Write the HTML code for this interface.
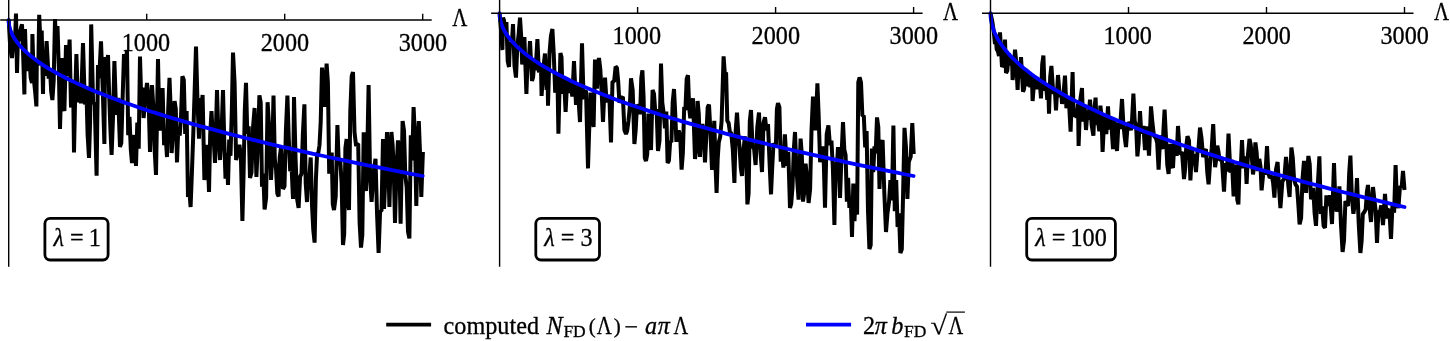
<!DOCTYPE html>
<html><head><meta charset="utf-8"><title>plot</title>
<style>
html,body{margin:0;padding:0;background:#fff;}
body{width:1450px;height:341px;overflow:hidden;position:relative;}
svg{position:absolute;left:0;top:0;display:block}
text{font-family:"Liberation Serif","DejaVu Serif",serif;fill:#000;stroke:#000;stroke-width:0.3px;}
.tk{font-size:24.2px;}
.lb{font-size:24.2px;}
.lg{font-size:24.2px;}
</style></head><body>
<svg width="1450" height="341" viewBox="0 0 1450 341">
<g>
<path d="M8.7 20.0 L10.3 48.8 L12.0 58.0 L13.7 37.1 L14.9 42.3 L16.0 13.6 L17.0 73.0 L18.2 29.5 L19.5 41.2 L20.8 28.3 L22.0 24.4 L23.2 56.3 L24.4 94.4 L25.0 29.0 L26.1 64.5 L27.3 71.0 L29.3 55.5 L30.7 77.9 L32.0 83.0 L32.4 34.0 L33.7 78.0 L35.1 91.2 L36.4 106.4 L36.8 60.1 L38.3 65.5 L39.2 14.8 L40.5 43.2 L41.7 30.5 L43.0 94.0 L43.4 66.1 L44.8 75.7 L46.6 41.0 L48.7 78.7 L50.0 68.5 L51.2 91.7 L52.4 100.0 L53.7 80.3 L55.0 19.0 L56.2 43.2 L57.5 26.0 L58.8 67.8 L60.0 129.0 L62.0 58.0 L63.2 105.7 L64.4 111.0 L66.0 45.0 L67.7 76.2 L69.6 39.6 L71.0 107.5 L72.0 93.3 L73.1 82.1 L74.0 152.4 L75.2 94.8 L76.4 54.0 L77.9 102.2 L79.7 84.7 L81.0 103.3 L83.0 43.0 L84.9 104.5 L86.3 86.7 L87.6 134.6 L89.0 158.0 L90.1 121.8 L91.2 24.4 L93.1 102.6 L94.7 103.7 L96.6 175.6 L98.0 65.0 L99.2 78.1 L101.0 41.4 L102.7 88.3 L104.4 144.0 L105.0 57.0 L106.3 73.1 L108.0 55.0 L109.2 95.6 L110.4 128.8 L111.6 155.0 L113.0 117.6 L114.4 61.0 L116.2 114.8 L118.2 97.7 L120.0 147.0 L121.3 142.9 L122.7 95.7 L124.0 54.0 L125.3 70.6 L127.0 50.0 L128.2 135.1 L129.5 116.8 L130.8 149.6 L132.0 163.0 L133.1 141.4 L134.2 135.1 L136.0 166.0 L137.3 122.5 L138.7 148.6 L140.0 56.6 L141.2 98.1 L142.4 87.7 L143.6 118.0 L145.3 99.0 L147.0 83.0 L148.5 96.3 L150.0 152.0 L152.0 85.0 L153.3 106.3 L154.7 150.6 L156.0 175.0 L158.0 59.0 L159.3 120.6 L160.6 130.4 L162.6 88.0 L164.1 145.1 L165.5 133.4 L167.0 157.0 L168.2 109.5 L169.5 77.8 L170.6 106.5 L171.6 153.0 L173.1 131.2 L174.6 101.0 L175.8 109.1 L177.0 162.4 L178.3 127.6 L179.7 135.7 L181.1 114.6 L182.4 76.2 L183.8 79.9 L185.2 133.9 L186.6 111.0 L188.0 197.0 L189.1 186.5 L190.6 207.0 L191.9 172.6 L193.3 133.3 L194.7 89.1 L196.0 46.6 L197.5 102.1 L199.0 138.7 L200.2 98.1 L201.4 107.0 L202.6 95.0 L204.4 180.0 L205.7 165.9 L206.9 144.8 L208.0 164.8 L209.0 192.0 L210.2 134.6 L211.5 111.0 L212.7 134.2 L213.8 141.2 L215.0 163.0 L217.0 90.0 L218.5 139.0 L220.0 160.0 L221.5 133.2 L223.0 90.0 L224.2 138.6 L225.5 178.7 L226.8 152.7 L228.0 185.0 L229.2 139.6 L230.5 155.9 L231.8 111.0 L233.0 52.5 L234.6 82.9 L236.1 159.9 L237.8 153.4 L239.4 144.8 L240.9 156.1 L242.4 221.0 L243.6 171.9 L244.8 110.2 L246.0 82.8 L247.3 133.8 L248.7 126.3 L250.0 178.0 L251.5 172.5 L253.1 126.4 L254.6 108.0 L256.4 177.0 L257.9 142.8 L259.4 95.3 L260.7 102.5 L262.0 186.8 L263.3 173.6 L264.6 209.4 L266.1 197.9 L267.6 102.2 L269.3 129.7 L271.0 180.0 L272.2 155.8 L273.5 95.6 L274.8 158.8 L276.1 170.1 L277.3 193.4 L278.6 196.4 L279.7 157.7 L280.9 148.2 L281.9 164.8 L283.0 189.0 L284.5 186.2 L285.9 130.4 L287.4 95.6 L288.8 139.5 L290.2 171.2 L291.6 167.6 L293.0 199.0 L294.0 97.0 L295.5 156.5 L297.1 199.0 L298.6 208.0 L300.1 176.6 L301.5 173.8 L302.9 133.0 L304.4 104.4 L305.7 183.0 L307.0 202.0 L308.2 173.3 L309.4 176.7 L310.7 157.5 L312.0 205.0 L313.3 230.1 L314.6 242.6 L315.9 179.2 L317.1 153.9 L318.3 152.7 L319.5 145.2 L320.7 122.2 L322.0 67.6 L323.3 81.2 L324.7 106.8 L326.6 63.6 L327.9 82.5 L329.2 173.6 L330.4 164.0 L331.7 152.5 L332.8 204.0 L334.0 210.0 L335.7 196.5 L337.4 125.0 L338.8 164.2 L340.2 159.6 L341.6 182.9 L343.0 245.0 L344.2 234.0 L345.4 148.1 L346.6 139.0 L347.8 202.0 L349.0 210.0 L350.3 111.4 L351.7 76.1 L353.0 72.0 L354.5 132.0 L356.1 146.0 L357.1 144.2 L358.2 143.8 L359.6 222.3 L361.0 247.6 L362.3 235.1 L363.7 132.3 L364.9 183.2 L366.0 190.9 L367.3 151.2 L368.6 85.0 L370.1 178.2 L371.6 201.8 L372.9 181.4 L374.2 168.1 L375.5 158.7 L377.0 212.7 L378.6 253.0 L380.1 211.1 L381.5 211.0 L383.0 139.0 L384.0 209.0 L385.5 174.7 L387.0 132.0 L388.2 154.6 L389.4 207.0 L391.4 132.0 L392.6 144.7 L393.8 171.0 L395.0 223.0 L396.5 168.3 L398.0 140.4 L399.3 156.3 L400.6 223.6 L402.6 121.0 L404.0 130.5 L405.3 175.4 L406.7 187.3 L408.0 231.5 L409.4 238.4 L410.8 135.4 L412.2 160.5 L413.6 107.0 L415.0 139.0 L416.3 206.0 L417.6 144.3 L418.8 121.0 L420.1 155.2 L421.3 197.0 L422.9 152.0" fill="none" stroke="#000" stroke-width="4.0" stroke-linejoin="bevel"/>
<path d="M8.7 20.0 L8.7 21.0 L8.8 21.9 L8.8 22.9 L9.0 23.9 L9.1 24.9 L9.3 25.9 L9.5 26.8 L9.7 27.8 L10.0 28.8 L10.3 29.8 L10.7 30.7 L11.0 31.7 L11.4 32.7 L11.9 33.6 L12.3 34.6 L12.8 35.6 L13.4 36.6 L13.9 37.5 L14.5 38.5 L15.2 39.5 L15.8 40.5 L16.5 41.5 L17.3 42.4 L18.0 43.4 L18.8 44.4 L19.6 45.4 L20.5 46.3 L21.4 47.3 L22.3 48.3 L23.3 49.2 L24.2 50.2 L25.3 51.2 L26.3 52.2 L27.4 53.1 L28.5 54.1 L29.7 55.1 L30.8 56.1 L32.1 57.0 L33.3 58.0 L34.6 59.0 L35.9 60.0 L37.2 61.0 L38.6 61.9 L40.0 62.9 L41.4 63.9 L42.9 64.8 L44.4 65.8 L46.0 66.8 L47.5 67.8 L49.1 68.8 L50.8 69.7 L52.4 70.7 L54.1 71.7 L55.9 72.7 L57.6 73.6 L59.4 74.6 L61.2 75.6 L63.1 76.5 L65.0 77.5 L66.9 78.5 L68.9 79.5 L70.9 80.5 L72.9 81.4 L74.9 82.4 L77.0 83.4 L79.1 84.3 L81.3 85.3 L83.5 86.3 L85.7 87.3 L87.9 88.2 L90.2 89.2 L92.5 90.2 L94.9 91.2 L97.3 92.2 L99.7 93.1 L102.1 94.1 L104.6 95.1 L107.1 96.0 L109.6 97.0 L112.2 98.0 L114.8 99.0 L117.4 99.9 L120.1 100.9 L122.8 101.9 L125.5 102.9 L128.3 103.8 L131.1 104.8 L133.9 105.8 L136.8 106.8 L139.7 107.8 L142.6 108.7 L145.6 109.7 L148.6 110.7 L151.6 111.7 L154.7 112.6 L157.7 113.6 L160.9 114.6 L164.0 115.6 L167.2 116.5 L170.4 117.5 L173.7 118.5 L177.0 119.4 L180.3 120.4 L183.6 121.4 L187.0 122.4 L190.4 123.3 L193.9 124.3 L197.3 125.3 L200.8 126.3 L204.4 127.2 L208.0 128.2 L211.6 129.2 L215.2 130.2 L218.9 131.2 L222.6 132.1 L226.3 133.1 L230.1 134.1 L233.9 135.1 L237.7 136.0 L241.6 137.0 L245.5 138.0 L249.4 138.9 L253.4 139.9 L257.4 140.9 L261.4 141.9 L265.4 142.8 L269.5 143.8 L273.7 144.8 L277.8 145.8 L282.0 146.8 L286.2 147.7 L290.5 148.7 L294.8 149.7 L299.1 150.7 L303.4 151.6 L307.8 152.6 L312.2 153.6 L316.7 154.6 L321.2 155.5 L325.7 156.5 L330.2 157.5 L334.8 158.4 L339.4 159.4 L344.0 160.4 L348.7 161.4 L353.4 162.3 L358.2 163.3 L362.9 164.3 L367.7 165.3 L372.6 166.2 L377.4 167.2 L382.3 168.2 L387.3 169.2 L392.2 170.2 L397.2 171.1 L402.3 172.1 L407.3 173.1 L412.4 174.1 L417.5 175.0 L422.7 176.0" fill="none" stroke="#0000ff" stroke-width="3.8" stroke-linecap="round" stroke-linejoin="round"/>
<path d="M8.7 0 V266.8" stroke="#000" stroke-width="1.4" fill="none"/>
<path d="M0.2 20.0 H431.7" stroke="#000" stroke-width="1.4" fill="none"/>
<path d="M146.7 20.0 V13.8" stroke="#000" stroke-width="1.4" fill="none"/>
<text x="121.7" y="50.5" class="tk">1000</text>
<path d="M284.7 20.0 V13.8" stroke="#000" stroke-width="1.4" fill="none"/>
<text x="260.7" y="50.5" class="tk">2000</text>
<path d="M422.7 20.0 V13.8" stroke="#000" stroke-width="1.4" fill="none"/>
<text x="398.7" y="50.5" class="tk">3000</text>
<text transform="translate(452.2 26.3) scale(0.86 1)" class="tk">Λ</text>
<rect x="44.9" y="218.4" width="63.2" height="41.6" rx="5.2" ry="5.2" fill="#fff" stroke="#000" stroke-width="2.8"/>
<text y="245.7" class="lb"><tspan x="53.4" font-style="italic">λ</tspan><tspan x="69.9">=</tspan><tspan x="88.7">1</tspan></text>
</g>
<g>
<path d="M499.6 13.2 L501.0 30.1 L502.4 50.0 L503.0 17.6 L504.0 20.3 L505.1 35.6 L506.4 22.0 L507.7 61.0 L509.0 67.0 L509.9 42.9 L511.9 43.2 L513.0 24.0 L514.5 66.1 L516.0 77.6 L517.3 46.2 L518.7 33.6 L520.0 17.6 L521.1 34.8 L522.2 64.4 L523.3 59.0 L524.4 37.0 L526.4 94.0 L527.7 56.7 L528.6 63.6 L530.0 41.0 L532.0 81.0 L533.1 77.1 L534.3 61.4 L535.6 70.1 L537.4 39.0 L538.9 72.5 L540.9 64.5 L541.6 96.0 L543.3 68.3 L545.0 53.6 L546.6 90.0 L547.5 69.1 L548.0 105.6 L549.5 53.4 L550.9 36.1 L552.4 29.0 L553.8 54.9 L555.2 92.8 L556.3 76.5 L557.4 74.4 L558.4 133.6 L560.4 53.0 L561.5 57.1 L562.5 93.8 L564.0 77.8 L565.6 112.0 L567.3 78.4 L568.7 92.9 L570.6 82.3 L572.3 96.5 L574.0 61.0 L576.0 105.0 L577.2 83.3 L578.6 100.7 L580.0 122.0 L582.0 43.4 L583.6 99.3 L584.8 92.2 L586.0 90.6 L588.0 168.4 L589.3 125.9 L590.5 92.6 L592.1 116.7 L593.6 127.0 L595.0 59.6 L596.9 88.6 L597.9 69.7 L599.0 58.0 L600.3 69.3 L601.7 93.2 L603.0 122.0 L605.0 77.6 L606.6 102.2 L607.9 99.6 L609.3 94.9 L611.0 142.4 L612.5 81.6 L614.1 81.6 L615.6 66.6 L616.9 67.7 L618.1 80.2 L619.4 102.7 L621.1 98.4 L622.9 96.8 L624.4 129.9 L626.0 134.0 L627.2 130.5 L628.5 120.5 L629.8 107.0 L631.0 78.4 L632.7 90.3 L634.4 144.0 L635.7 130.0 L637.0 104.9 L638.5 106.5 L640.1 114.1 L641.3 78.0 L642.4 70.4 L643.6 97.8 L644.8 157.7 L646.0 161.0 L647.2 154.4 L648.4 113.5 L649.7 134.6 L651.0 150.0 L652.6 90.0 L654.0 94.0 L655.3 112.3 L656.6 109.1 L658.0 151.0 L659.5 140.6 L661.0 63.5 L662.3 102.7 L663.6 112.4 L665.0 128.2 L666.3 111.6 L667.6 163.0 L668.9 160.8 L670.2 141.1 L671.4 142.1 L672.7 102.1 L674.0 89.0 L675.2 112.5 L676.4 141.8 L677.6 133.2 L678.7 130.5 L680.2 135.7 L681.6 169.6 L682.9 152.3 L684.2 107.0 L685.4 110.1 L686.7 78.6 L688.0 75.2 L689.2 108.1 L690.3 118.2 L691.7 106.1 L693.0 98.4 L695.0 159.0 L696.3 149.1 L697.6 101.0 L698.8 113.9 L700.0 157.0 L701.1 130.5 L702.3 124.1 L703.6 132.0 L705.0 162.4 L706.3 136.5 L707.7 107.2 L709.0 104.5 L710.5 132.6 L712.0 170.0 L713.2 142.1 L714.3 120.8 L715.5 164.9 L716.6 193.0 L717.7 158.5 L718.8 142.3 L720.2 136.7 L721.6 121.1 L723.6 56.4 L724.8 73.5 L726.1 72.6 L727.3 120.9 L728.6 122.8 L729.9 132.3 L731.2 133.0 L732.8 149.3 L734.4 183.0 L735.7 130.3 L737.0 112.6 L738.2 132.6 L739.5 146.4 L740.8 167.9 L742.0 176.0 L743.4 151.4 L744.9 136.3 L746.1 150.0 L747.4 204.4 L748.6 193.5 L749.8 121.2 L751.0 110.0 L752.5 146.2 L754.1 148.8 L755.6 165.0 L757.3 127.3 L759.0 112.5 L760.5 152.1 L762.0 172.0 L763.5 122.8 L765.0 117.2 L766.5 130.2 L768.0 124.2 L769.5 161.2 L771.0 194.4 L772.3 165.5 L773.5 143.3 L774.7 144.7 L775.9 145.2 L776.9 109.0 L778.0 103.2 L779.4 107.1 L780.7 161.6 L782.0 150.5 L783.4 167.6 L784.9 134.3 L786.0 153.3 L787.0 165.8 L788.3 151.8 L790.0 208.0 L791.2 203.6 L792.5 187.7 L793.8 149.7 L795.0 132.0 L796.2 163.1 L797.4 182.8 L798.6 199.6 L800.6 138.6 L801.8 154.2 L803.0 201.6 L804.3 192.1 L805.6 163.6 L807.1 178.1 L808.6 203.0 L810.1 189.2 L811.5 130.6 L813.0 96.6 L814.3 102.4 L815.6 130.3 L817.4 83.4 L818.7 116.9 L820.1 162.2 L821.3 152.7 L822.5 146.4 L823.8 162.7 L825.0 207.6 L826.7 134.1 L828.4 125.4 L829.9 145.0 L831.4 140.7 L832.9 168.3 L834.4 225.0 L835.6 162.2 L836.8 168.9 L838.0 147.0 L840.0 198.0 L841.5 156.3 L843.0 122.0 L844.3 149.5 L845.6 155.3 L846.9 201.6 L848.1 177.9 L849.4 207.9 L850.7 197.8 L852.0 237.0 L853.3 183.5 L854.5 221.2 L855.8 187.0 L857.1 214.7 L858.3 82.2 L859.6 77.4 L861.0 82.5 L862.4 116.0 L863.8 115.5 L865.2 147.3 L866.6 131.0 L868.0 211.0 L869.4 249.0 L870.7 245.1 L871.9 148.5 L873.2 172.1 L874.5 146.4 L875.7 153.3 L877.0 117.4 L878.3 126.9 L879.5 188.9 L881.1 145.6 L882.6 140.0 L884.3 192.3 L886.0 232.0 L887.5 212.9 L889.0 202.3 L890.4 180.1 L891.9 200.4 L893.4 125.6 L894.8 211.1 L896.2 180.0 L897.6 227.0 L899.0 213.4 L900.4 253.0 L901.8 249.2 L903.1 194.0 L904.5 127.9 L906.0 147.9 L907.4 199.0 L908.8 161.7 L910.7 156.8 L912.3 123.0 L913.7 154.0" fill="none" stroke="#000" stroke-width="4.0" stroke-linejoin="bevel"/>
<path d="M499.6 13.2 L499.6 14.2 L499.7 15.2 L499.7 16.3 L499.9 17.3 L500.0 18.3 L500.2 19.3 L500.4 20.3 L500.6 21.3 L500.9 22.4 L501.2 23.4 L501.6 24.4 L501.9 25.4 L502.3 26.4 L502.8 27.4 L503.2 28.5 L503.7 29.5 L504.3 30.5 L504.8 31.5 L505.4 32.5 L506.1 33.5 L506.7 34.6 L507.4 35.6 L508.2 36.6 L508.9 37.6 L509.7 38.6 L510.5 39.7 L511.4 40.7 L512.3 41.7 L513.2 42.7 L514.2 43.7 L515.1 44.7 L516.2 45.8 L517.2 46.8 L518.3 47.8 L519.4 48.8 L520.6 49.8 L521.7 50.8 L523.0 51.9 L524.2 52.9 L525.5 53.9 L526.8 54.9 L528.1 55.9 L529.5 57.0 L530.9 58.0 L532.3 59.0 L533.8 60.0 L535.3 61.0 L536.9 62.0 L538.4 63.1 L540.0 64.1 L541.7 65.1 L543.3 66.1 L545.0 67.1 L546.8 68.1 L548.5 69.2 L550.3 70.2 L552.1 71.2 L554.0 72.2 L555.9 73.2 L557.8 74.2 L559.8 75.3 L561.8 76.3 L563.8 77.3 L565.8 78.3 L567.9 79.3 L570.0 80.4 L572.2 81.4 L574.4 82.4 L576.6 83.4 L578.8 84.4 L581.1 85.4 L583.4 86.5 L585.8 87.5 L588.2 88.5 L590.6 89.5 L593.0 90.5 L595.5 91.5 L598.0 92.6 L600.5 93.6 L603.1 94.6 L605.7 95.6 L608.3 96.6 L611.0 97.7 L613.7 98.7 L616.4 99.7 L619.2 100.7 L622.0 101.7 L624.8 102.7 L627.7 103.8 L630.6 104.8 L633.5 105.8 L636.5 106.8 L639.5 107.8 L642.5 108.8 L645.6 109.9 L648.6 110.9 L651.8 111.9 L654.9 112.9 L658.1 113.9 L661.3 115.0 L664.6 116.0 L667.9 117.0 L671.2 118.0 L674.5 119.0 L677.9 120.0 L681.3 121.1 L684.8 122.1 L688.2 123.1 L691.7 124.1 L695.3 125.1 L698.9 126.1 L702.5 127.2 L706.1 128.2 L709.8 129.2 L713.5 130.2 L717.2 131.2 L721.0 132.2 L724.8 133.3 L728.6 134.3 L732.5 135.3 L736.4 136.3 L740.3 137.3 L744.3 138.4 L748.3 139.4 L752.3 140.4 L756.3 141.4 L760.4 142.4 L764.6 143.4 L768.7 144.5 L772.9 145.5 L777.1 146.5 L781.4 147.5 L785.7 148.5 L790.0 149.5 L794.3 150.6 L798.7 151.6 L803.1 152.6 L807.6 153.6 L812.1 154.6 L816.6 155.7 L821.1 156.7 L825.7 157.7 L830.3 158.7 L834.9 159.7 L839.6 160.7 L844.3 161.8 L849.1 162.8 L853.8 163.8 L858.6 164.8 L863.5 165.8 L868.3 166.8 L873.2 167.9 L878.2 168.9 L883.1 169.9 L888.1 170.9 L893.2 171.9 L898.2 172.9 L903.3 174.0 L908.4 175.0 L913.6 176.0" fill="none" stroke="#0000ff" stroke-width="3.8" stroke-linecap="round" stroke-linejoin="round"/>
<path d="M499.6 0 V266.8" stroke="#000" stroke-width="1.4" fill="none"/>
<path d="M491.1 13.2 H922.6" stroke="#000" stroke-width="1.4" fill="none"/>
<path d="M637.6 13.2 V7.0" stroke="#000" stroke-width="1.4" fill="none"/>
<text x="612.6" y="43.7" class="tk">1000</text>
<path d="M775.6 13.2 V7.0" stroke="#000" stroke-width="1.4" fill="none"/>
<text x="751.6" y="43.7" class="tk">2000</text>
<path d="M913.6 13.2 V7.0" stroke="#000" stroke-width="1.4" fill="none"/>
<text x="889.6" y="43.7" class="tk">3000</text>
<text transform="translate(943.1 19.5) scale(0.86 1)" class="tk">Λ</text>
<rect x="535.8" y="218.4" width="63.7" height="41.6" rx="5.2" ry="5.2" fill="#fff" stroke="#000" stroke-width="2.8"/>
<text y="245.7" class="lb"><tspan x="544.3" font-style="italic">λ</tspan><tspan x="560.8">=</tspan><tspan x="580.6">3</tspan></text>
</g>
<g>
<path d="M990.5 13.2 L992.3 21.5 L993.6 30.3 L995.0 44.0 L995.5 34.1 L996.7 49.3 L997.8 50.9 L999.0 56.0 L1000.0 32.4 L1002.0 67.0 L1003.5 64.1 L1005.0 39.6 L1006.0 73.0 L1007.3 70.7 L1008.7 53.6 L1010.0 65.3 L1012.0 57.9 L1012.6 80.0 L1013.8 68.5 L1015.0 49.6 L1016.3 62.6 L1017.6 90.0 L1018.6 63.6 L1019.9 78.5 L1021.0 57.0 L1023.0 91.6 L1024.1 89.0 L1025.2 68.4 L1026.8 86.3 L1028.0 72.0 L1029.1 76.1 L1030.3 87.4 L1031.8 74.0 L1032.6 101.0 L1033.8 86.2 L1035.0 78.0 L1036.6 89.2 L1038.4 78.6 L1039.7 81.8 L1041.0 98.4 L1042.2 64.3 L1043.4 55.6 L1044.6 90.8 L1046.0 83.8 L1047.3 99.8 L1048.3 87.4 L1049.0 113.6 L1050.2 76.7 L1051.4 66.0 L1053.3 93.9 L1054.9 90.7 L1056.0 110.4 L1058.0 75.0 L1059.8 96.6 L1061.5 95.1 L1062.0 104.0 L1063.5 94.1 L1065.0 75.6 L1066.4 108.2 L1068.1 96.6 L1069.3 107.6 L1070.6 131.6 L1072.6 72.0 L1073.6 117.0 L1075.4 109.5 L1076.7 118.0 L1078.0 103.7 L1078.6 146.0 L1080.3 99.7 L1082.0 88.0 L1083.0 121.5 L1084.6 104.9 L1086.0 130.0 L1087.5 111.0 L1088.3 119.9 L1090.0 99.6 L1091.7 125.5 L1093.4 135.6 L1094.5 108.1 L1095.6 97.6 L1096.5 124.7 L1097.8 120.0 L1099.3 131.2 L1100.4 105.6 L1101.5 116.2 L1102.6 152.0 L1104.4 115.4 L1106.3 134.1 L1108.0 106.4 L1109.2 129.4 L1111.0 118.7 L1113.0 149.0 L1114.3 119.3 L1115.6 132.6 L1117.0 151.0 L1118.5 122.5 L1120.0 128.8 L1122.0 99.0 L1123.3 123.1 L1124.7 137.2 L1126.0 147.0 L1127.4 128.1 L1128.8 122.3 L1129.8 123.5 L1130.9 130.4 L1132.1 119.0 L1133.4 93.6 L1134.7 121.1 L1136.1 125.5 L1137.4 156.4 L1138.7 142.4 L1140.0 111.0 L1141.3 133.5 L1142.3 131.4 L1143.4 125.8 L1145.0 150.0 L1146.1 131.1 L1147.1 126.5 L1149.0 155.6 L1151.0 106.4 L1152.4 122.6 L1153.9 135.8 L1155.9 138.1 L1157.2 143.1 L1158.6 169.6 L1160.2 135.3 L1161.4 146.3 L1162.5 149.0 L1163.6 127.2 L1164.6 109.6 L1165.9 136.4 L1167.3 164.9 L1168.6 174.0 L1170.4 143.8 L1171.7 164.6 L1173.0 168.0 L1174.3 142.4 L1175.5 144.7 L1176.7 155.8 L1178.0 126.0 L1179.8 153.6 L1180.9 153.4 L1182.0 151.8 L1184.0 179.0 L1185.2 168.3 L1186.3 145.5 L1187.5 136.2 L1189.0 140.7 L1190.4 180.4 L1192.1 148.5 L1193.0 159.9 L1194.2 154.1 L1196.0 172.0 L1197.6 150.5 L1198.3 151.0 L1200.0 127.6 L1201.5 138.0 L1203.1 157.2 L1204.5 151.8 L1205.9 149.0 L1207.3 172.7 L1208.6 184.4 L1210.1 162.6 L1211.7 148.2 L1213.2 124.0 L1215.1 167.1 L1216.2 159.5 L1217.3 145.7 L1218.4 151.3 L1219.5 159.5 L1220.8 159.7 L1222.0 160.8 L1224.0 191.6 L1225.5 163.1 L1227.0 171.3 L1228.5 133.6 L1230.4 172.7 L1231.9 159.9 L1233.6 196.4 L1234.9 172.3 L1236.2 164.7 L1237.3 199.9 L1238.4 204.4 L1239.6 161.8 L1240.8 167.0 L1242.0 140.2 L1243.3 168.1 L1244.4 164.6 L1245.4 156.4 L1246.6 184.0 L1248.0 153.9 L1249.5 139.0 L1250.7 144.4 L1251.8 156.4 L1253.0 174.4 L1254.2 165.3 L1255.4 142.4 L1256.6 151.9 L1257.8 171.1 L1259.3 158.9 L1260.5 166.4 L1261.6 190.4 L1263.6 169.9 L1265.4 174.6 L1267.0 146.0 L1268.4 173.8 L1269.8 177.9 L1271.7 175.8 L1273.1 182.5 L1274.4 197.6 L1276.0 169.4 L1277.6 162.0 L1279.0 186.9 L1280.4 208.0 L1282.4 181.2 L1284.3 178.7 L1286.0 157.0 L1287.2 169.6 L1288.4 186.4 L1289.6 197.0 L1291.4 147.6 L1292.8 158.1 L1294.1 179.3 L1295.6 184.8 L1297.0 186.4 L1298.3 203.8 L1299.6 224.4 L1301.1 218.0 L1302.5 178.8 L1304.0 161.0 L1305.1 172.0 L1306.1 193.0 L1307.3 170.4 L1308.4 156.0 L1309.7 164.1 L1311.0 199.3 L1312.1 196.1 L1313.2 187.8 L1314.6 213.0 L1316.0 225.8 L1317.7 186.5 L1319.4 156.4 L1320.8 214.0 L1322.2 206.3 L1323.6 225.9 L1325.0 228.0 L1326.4 195.3 L1328.2 206.0 L1329.9 195.2 L1332.0 224.0 L1334.0 163.0 L1335.4 202.9 L1336.7 211.4 L1338.0 206.7 L1339.4 186.3 L1341.0 225.2 L1342.6 252.0 L1344.0 240.6 L1345.4 201.1 L1346.7 203.9 L1348.0 206.0 L1349.2 172.8 L1350.4 155.6 L1351.9 197.5 L1353.4 213.7 L1354.6 205.2 L1355.8 202.1 L1357.0 178.0 L1358.7 223.2 L1360.4 253.0 L1361.6 241.3 L1362.8 214.1 L1364.3 212.0 L1365.7 209.3 L1366.9 191.8 L1368.0 185.0 L1369.5 207.1 L1371.0 222.0 L1373.0 187.0 L1374.3 198.9 L1375.7 211.3 L1377.0 243.0 L1378.2 215.6 L1379.2 211.5 L1380.3 210.6 L1381.2 205.4 L1383.0 225.0 L1385.0 194.0 L1386.7 218.5 L1388.0 210.3 L1389.3 209.3 L1391.0 239.0 L1392.5 204.2 L1394.1 212.6 L1395.6 165.0 L1397.0 203.2 L1398.4 208.0 L1400.0 186.1 L1401.6 187.9 L1403.0 171.0 L1404.5 190.0" fill="none" stroke="#000" stroke-width="4.0" stroke-linejoin="bevel"/>
<path d="M990.5 13.2 L990.5 14.4 L990.6 15.6 L990.6 16.8 L990.8 18.0 L990.9 19.3 L991.1 20.5 L991.3 21.7 L991.5 22.9 L991.8 24.1 L992.1 25.3 L992.5 26.5 L992.8 27.7 L993.2 28.9 L993.7 30.2 L994.1 31.4 L994.6 32.6 L995.2 33.8 L995.7 35.0 L996.3 36.2 L997.0 37.4 L997.6 38.6 L998.3 39.8 L999.1 41.1 L999.8 42.3 L1000.6 43.5 L1001.4 44.7 L1002.3 45.9 L1003.2 47.1 L1004.1 48.3 L1005.1 49.5 L1006.0 50.7 L1007.1 52.0 L1008.1 53.2 L1009.2 54.4 L1010.3 55.6 L1011.5 56.8 L1012.6 58.0 L1013.9 59.2 L1015.1 60.4 L1016.4 61.7 L1017.7 62.9 L1019.0 64.1 L1020.4 65.3 L1021.8 66.5 L1023.2 67.7 L1024.7 68.9 L1026.2 70.1 L1027.8 71.3 L1029.3 72.6 L1030.9 73.8 L1032.6 75.0 L1034.2 76.2 L1035.9 77.4 L1037.7 78.6 L1039.4 79.8 L1041.2 81.0 L1043.0 82.2 L1044.9 83.5 L1046.8 84.7 L1048.7 85.9 L1050.7 87.1 L1052.7 88.3 L1054.7 89.5 L1056.7 90.7 L1058.8 91.9 L1060.9 93.1 L1063.1 94.4 L1065.3 95.6 L1067.5 96.8 L1069.7 98.0 L1072.0 99.2 L1074.3 100.4 L1076.7 101.6 L1079.1 102.8 L1081.5 104.0 L1083.9 105.3 L1086.4 106.5 L1088.9 107.7 L1091.4 108.9 L1094.0 110.1 L1096.6 111.3 L1099.2 112.5 L1101.9 113.7 L1104.6 114.9 L1107.3 116.2 L1110.1 117.4 L1112.9 118.6 L1115.7 119.8 L1118.6 121.0 L1121.5 122.2 L1124.4 123.4 L1127.4 124.6 L1130.4 125.8 L1133.4 127.1 L1136.5 128.3 L1139.5 129.5 L1142.7 130.7 L1145.8 131.9 L1149.0 133.1 L1152.2 134.3 L1155.5 135.5 L1158.8 136.7 L1162.1 138.0 L1165.4 139.2 L1168.8 140.4 L1172.2 141.6 L1175.7 142.8 L1179.1 144.0 L1182.6 145.2 L1186.2 146.4 L1189.8 147.6 L1193.4 148.9 L1197.0 150.1 L1200.7 151.3 L1204.4 152.5 L1208.1 153.7 L1211.9 154.9 L1215.7 156.1 L1219.5 157.3 L1223.4 158.6 L1227.3 159.8 L1231.2 161.0 L1235.2 162.2 L1239.2 163.4 L1243.2 164.6 L1247.2 165.8 L1251.3 167.0 L1255.5 168.2 L1259.6 169.5 L1263.8 170.7 L1268.0 171.9 L1272.3 173.1 L1276.6 174.3 L1280.9 175.5 L1285.2 176.7 L1289.6 177.9 L1294.0 179.1 L1298.5 180.4 L1303.0 181.6 L1307.5 182.8 L1312.0 184.0 L1316.6 185.2 L1321.2 186.4 L1325.8 187.6 L1330.5 188.8 L1335.2 190.0 L1340.0 191.3 L1344.7 192.5 L1349.5 193.7 L1354.4 194.9 L1359.2 196.1 L1364.1 197.3 L1369.1 198.5 L1374.0 199.7 L1379.0 200.9 L1384.1 202.2 L1389.1 203.4 L1394.2 204.6 L1399.3 205.8 L1404.5 207.0" fill="none" stroke="#0000ff" stroke-width="3.8" stroke-linecap="round" stroke-linejoin="round"/>
<path d="M990.5 0 V266.8" stroke="#000" stroke-width="1.4" fill="none"/>
<path d="M982.0 13.2 H1413.5" stroke="#000" stroke-width="1.4" fill="none"/>
<path d="M1128.5 13.2 V7.0" stroke="#000" stroke-width="1.4" fill="none"/>
<text x="1103.5" y="43.7" class="tk">1000</text>
<path d="M1266.5 13.2 V7.0" stroke="#000" stroke-width="1.4" fill="none"/>
<text x="1242.5" y="43.7" class="tk">2000</text>
<path d="M1404.5 13.2 V7.0" stroke="#000" stroke-width="1.4" fill="none"/>
<text x="1380.5" y="43.7" class="tk">3000</text>
<text transform="translate(1434.0 19.5) scale(0.86 1)" class="tk">Λ</text>
<rect x="1026.7" y="218.4" width="88.7" height="41.6" rx="5.2" ry="5.2" fill="#fff" stroke="#000" stroke-width="2.8"/>
<text y="245.7" class="lb"><tspan x="1035.2" font-style="italic">λ</tspan><tspan x="1051.7">=</tspan><tspan x="1070.5">100</tspan></text>
</g>
<g>
<path d="M386.2 324.6 H431.1" stroke="#000" stroke-width="3.7" fill="none"/>
<text x="443.6" y="333.7" class="lg">computed</text>
<text x="546.4" y="333.7" class="lg" font-style="italic">N</text>
<text x="563.4" y="337.2" class="lg" style="font-size:17.5px">FD</text>
<text x="588.8" y="332.5" class="lg" style="font-size:21px">(</text>
<text transform="translate(596.8 333.7) scale(0.86 1)" class="lg">Λ</text>
<text x="613.8" y="332.5" class="lg" style="font-size:21px">)</text>
<text x="624.5" y="335.4" class="lg">−</text>
<text x="644.9" y="333.7" class="lg" font-style="italic">a</text>
<text x="657.8" y="333.7" class="lg" font-style="italic">π</text>
<text transform="translate(673.6 333.7) scale(0.84 1)" class="lg">Λ</text>
<path d="M806 324.6 H851.1" stroke="#0000ff" stroke-width="3.8" fill="none"/>
<text x="862.9" y="333.7" class="lg">2</text>
<text x="874.8" y="333.7" class="lg" font-style="italic">π</text>
<text x="891.3" y="333.7" class="lg" font-style="italic">b</text>
<text x="904" y="337.1" class="lg" style="font-size:17.5px">FD</text>
<text transform="translate(948.5 333.7) scale(0.84 1)" class="lg">Λ</text>
<text transform="translate(930.2 333.9) scale(1.27 1.09)" class="lg" style="stroke-width:0.1px">√</text>
<path d="M946.3 312.1 H964.9" stroke="#000" stroke-width="1.2" fill="none"/>
</g>
</svg>
</body></html>
